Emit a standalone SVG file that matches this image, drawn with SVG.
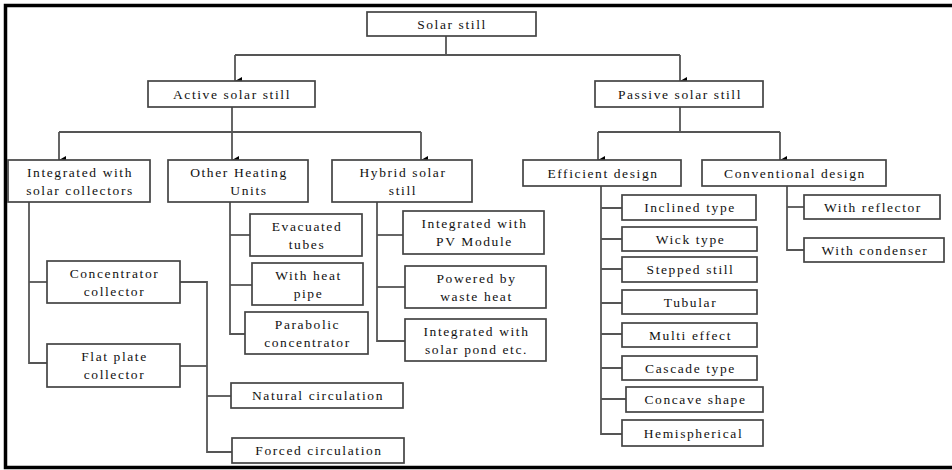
<svg xmlns="http://www.w3.org/2000/svg" width="952" height="470" viewBox="0 0 952 470">
<style>
.box rect{fill:#fff;stroke:#444;stroke-width:1.7}
.box text{font-family:"Liberation Serif","Times New Roman",serif;font-size:13.5px;fill:#111;text-anchor:middle;letter-spacing:1.6px}
.conn path{fill:none;stroke:#555;stroke-width:1.8}
.conn path.arr{marker-end:url(#ah)}
</style>
<defs>
<marker id="ah" viewBox="0 0 8 7" refX="4" refY="7" markerWidth="8" markerHeight="7" markerUnits="userSpaceOnUse" orient="auto-start-reverse">
<path d="M0,0 L8,0 L4,7 Z" fill="#000"/>
</marker>
</defs>
<rect width="952" height="470" fill="#fff"/>
<path d="M952 5.5 H5.5 V467.5 H952" fill="none" stroke="#000" stroke-width="3.5"/>
<g class="conn">
<path d="M446 36 V55"/>
<path d="M235 55 H680"/>
<path class="arr" d="M235 55 V81"/>
<path class="arr" d="M680 55 V81"/>
<path d="M232 107 V132"/>
<path d="M59 132 H421"/>
<path class="arr" d="M59 132 V160"/>
<path class="arr" d="M232 132 V160"/>
<path class="arr" d="M421 132 V160"/>
<path d="M680 107 V132"/>
<path d="M598 132 H780"/>
<path class="arr" d="M598 132 V160"/>
<path class="arr" d="M780 132 V160"/>
<path d="M29 202 V363 H47"/>
<path d="M29 282 H47"/>
<path d="M180 282 H207 V452 H232"/>
<path d="M180 366 H207"/>
<path d="M207 396 H231"/>
<path d="M230 202 V334 H245"/>
<path d="M230 235 H250"/>
<path d="M230 285 H252"/>
<path d="M377 202 V341 H405"/>
<path d="M377 235 H403"/>
<path d="M377 287 H405"/>
<path d="M601 186 V434 H622"/>
<path d="M601 208 H622 M601 239 H622 M601 269 H622 M601 303 H622 M601 334 H622 M601 368 H622 M601 399 H626"/>
<path d="M787 186 V250 H804"/>
<path d="M787 207 H804"/>
</g>
<g id="solar" class="box"><rect x="367" y="12" width="169" height="24"/><text x="452" y="28.5">Solar still</text></g>
<g id="active" class="box"><rect x="148" y="81" width="167" height="26"/><text x="232" y="98.5">Active solar still</text></g>
<g id="passive" class="box"><rect x="595" y="81" width="168" height="26"/><text x="680" y="98.5">Passive solar still</text></g>
<g id="intcol" class="box"><rect x="8" y="160" width="142" height="42"/><text x="80" y="177">Integrated with</text><text x="80" y="195">solar collectors</text></g>
<g id="other" class="box"><rect x="168" y="160" width="140" height="42"/><text x="239" y="177">Other Heating</text><text x="249" y="195">Units</text></g>
<g id="hybrid" class="box"><rect x="332" y="160" width="140" height="42"/><text x="403" y="177">Hybrid solar</text><text x="403" y="195">still</text></g>
<g id="efficient" class="box"><rect x="523" y="160" width="158" height="26"/><text x="603" y="177.5">Efficient design</text></g>
<g id="conventional" class="box"><rect x="702" y="160" width="184" height="26"/><text x="795" y="177.5">Conventional design</text></g>
<g id="concentrator" class="box"><rect x="47" y="261" width="133" height="42"/><text x="114.5" y="278">Concentrator</text><text x="114.5" y="296">collector</text></g>
<g id="flatplate" class="box"><rect x="47" y="344" width="133" height="43"/><text x="114.5" y="361">Flat plate</text><text x="114.5" y="379">collector</text></g>
<g id="natural" class="box"><rect x="231" y="383" width="172" height="25"/><text x="318" y="400">Natural circulation</text></g>
<g id="forced" class="box"><rect x="232" y="438" width="172" height="25"/><text x="319" y="455">Forced circulation</text></g>
<g id="evacuated" class="box"><rect x="250" y="214" width="112" height="42"/><text x="307" y="231">Evacuated</text><text x="307" y="249">tubes</text></g>
<g id="heatpipe" class="box"><rect x="252" y="263" width="111" height="42"/><text x="308.5" y="280">With heat</text><text x="308.5" y="298">pipe</text></g>
<g id="parabolic" class="box"><rect x="245" y="312" width="123" height="42"/><text x="307.5" y="329">Parabolic</text><text x="307.5" y="347">concentrator</text></g>
<g id="pv" class="box"><rect x="403" y="211" width="141" height="43"/><text x="474.5" y="228">Integrated with</text><text x="474.5" y="246">PV Module</text></g>
<g id="waste" class="box"><rect x="405" y="266" width="141" height="42"/><text x="476.5" y="283">Powered by</text><text x="476.5" y="301">waste heat</text></g>
<g id="pond" class="box"><rect x="405" y="319" width="141" height="42"/><text x="476.5" y="336">Integrated with</text><text x="476.5" y="354">solar pond etc.</text></g>
<g id="inclined" class="box"><rect x="622" y="195" width="134" height="25"/><text x="690" y="212">Inclined type</text></g>
<g id="wick" class="box"><rect x="622" y="227" width="135" height="24"/><text x="690.5" y="243.5">Wick type</text></g>
<g id="stepped" class="box"><rect x="622" y="257" width="135" height="25"/><text x="690.5" y="274">Stepped still</text></g>
<g id="tubular" class="box"><rect x="622" y="290" width="135" height="24"/><text x="690.5" y="306.5">Tubular</text></g>
<g id="multi" class="box"><rect x="622" y="323" width="135" height="24"/><text x="690.5" y="339.5">Multi effect</text></g>
<g id="cascade" class="box"><rect x="622" y="356" width="135" height="24"/><text x="690.5" y="372.5">Cascade type</text></g>
<g id="concave" class="box"><rect x="626" y="387" width="137" height="25"/><text x="695.5" y="404">Concave shape</text></g>
<g id="hemi" class="box"><rect x="622" y="420" width="141" height="26"/><text x="693.5" y="437.5">Hemispherical</text></g>
<g id="reflector" class="box"><rect x="804" y="195" width="136" height="24"/><text x="873" y="211.5">With reflector</text></g>
<g id="condenser" class="box"><rect x="804" y="238" width="140" height="24"/><text x="875" y="254.5">With condenser</text></g>
</svg>
